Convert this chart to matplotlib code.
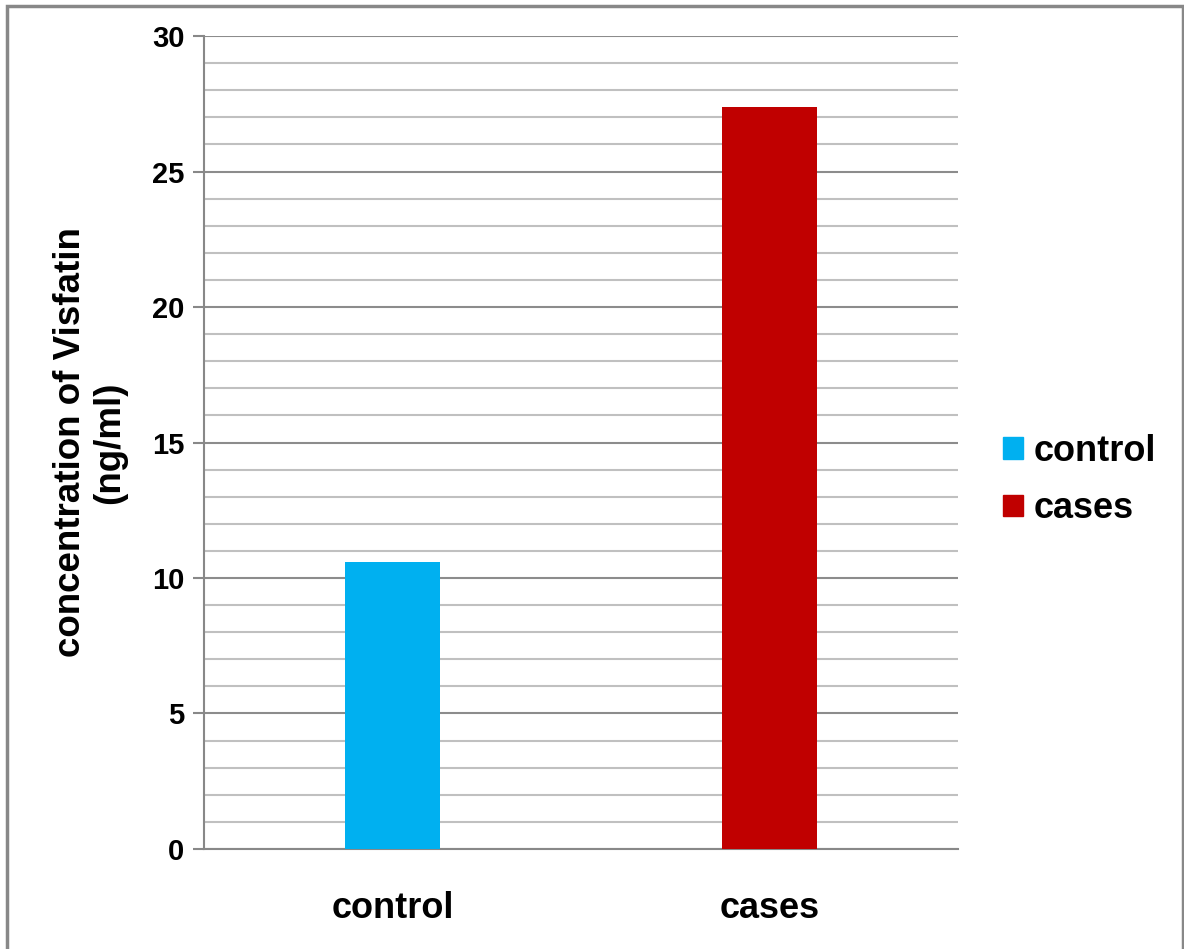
import matplotlib
matplotlib.use("Agg")
import matplotlib.pyplot as plt
from matplotlib.patches import Rectangle
import numpy as np

groups = ["control", "cases"]
visfatin = [10.6, 27.4]
colors = ["#00B0F0", "#C00000"]
yticks = [0, 5, 10, 15, 20, 25, 30]

plt.rcParams["font.family"] = ["Liberation Sans", "DejaVu Sans"]
plt.rcParams["font.weight"] = "bold"

fig = plt.figure(figsize=(11.84, 9.49), dpi=100)
ax = fig.add_axes([0.1723, 0.1054, 0.6368, 0.8566])

x = np.arange(len(groups))
bars = ax.bar(x, visfatin, width=0.25, color=colors, zorder=3)

ax.set_xlim(-0.5, 1.5)
ax.set_ylim(0, 30)
ax.set_yticks(yticks)
ax.set_yticks(np.arange(0, 31, 1), minor=True)
ax.set_xticks(x)
ax.set_xticklabels(groups, fontsize=26, fontweight="bold")
ax.tick_params(axis="x", length=0, pad=30)
ax.tick_params(axis="y", which="major", length=8, width=1.5, color="#888888",
               labelsize=21, pad=6)
ax.tick_params(axis="y", which="minor", length=0)
for lab in ax.get_yticklabels():
    lab.set_fontweight("bold")

ax.grid(axis="y", which="major", color="#8c8c8c", linewidth=1.5, zorder=0)
ax.grid(axis="y", which="minor", color="#c0c0c0", linewidth=1.5, zorder=0)

for side in ["top", "right"]:
    ax.spines[side].set_visible(False)
ax.spines["left"].set_color("#888888")
ax.spines["left"].set_linewidth(1.5)
ax.spines["bottom"].set_color("#888888")
ax.spines["bottom"].set_linewidth(1.5)

ax.set_ylabel("concentration of Visfatin\n(ng/ml)", fontsize=26.5,
              fontweight="bold", labelpad=18, linespacing=1.15)

handles = [Rectangle((0, 0), 1, 1, color=c) for c in colors]
fig.legend(handles, groups, loc="center left", bbox_to_anchor=(0.847, 0.494),
           frameon=False, prop={"weight": "bold", "size": 26},
           handlelength=0.55, handleheight=0.55, handletextpad=0.3,
           labelspacing=0.62, borderpad=0, borderaxespad=0)

# outer frame of the chart
fig.patches.append(Rectangle((0.0055, -0.05), 0.9935, 1.044, transform=fig.transFigure,
                             fill=False, edgecolor="#888888", linewidth=2.5))

fig.savefig("out.png", dpi=100)
